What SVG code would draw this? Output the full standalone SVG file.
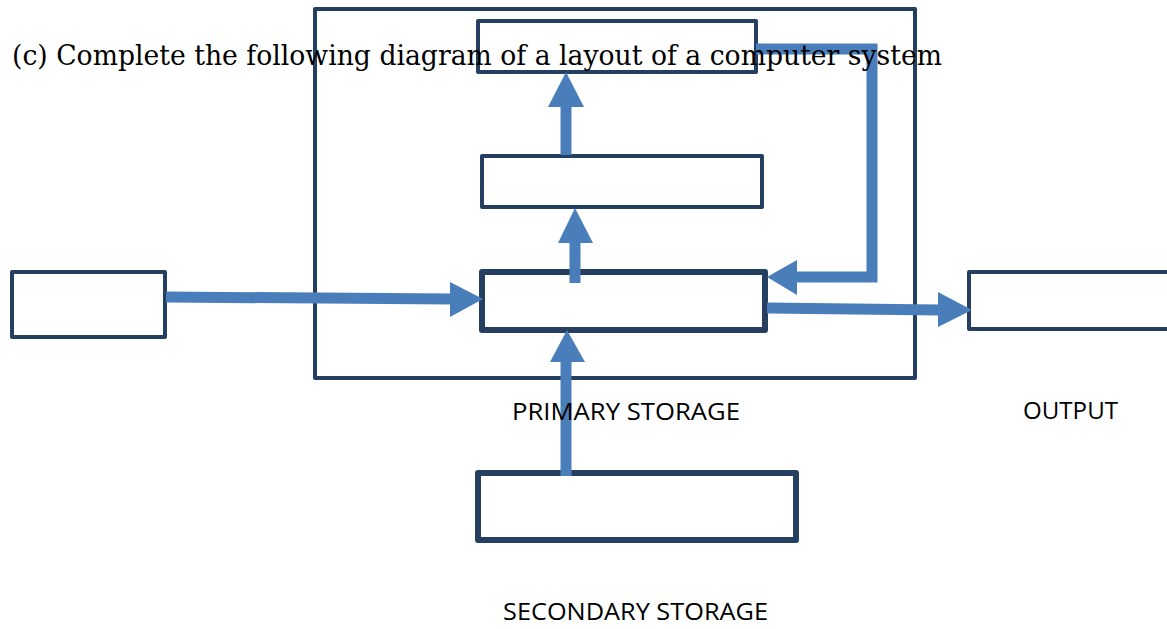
<svg xmlns="http://www.w3.org/2000/svg" width="1167" height="629" viewBox="0 0 1167 629">
<style>
.box{fill:none;stroke:#243F60;stroke-width:4;stroke-linejoin:round}
.thick{stroke-width:6}
.line{fill:none;stroke:#4A7EBB;stroke-width:11}
.head{fill:#4A7EBB}
.lbl{font-family:"Open Sans","Liberation Sans",sans-serif;font-size:24px;fill:#000}
.title{font-family:"DejaVu Serif","Liberation Serif",serif;font-size:28px;fill:#000}
</style>
<rect width="1167" height="629" fill="#fff"/>
<g id="primary-storage"><rect class="box" x="315" y="9" width="600" height="369"/></g>
<g id="top-box"><rect class="box" x="478" y="21" width="278" height="51"/></g>
<g id="middle-box"><rect class="box" x="482" y="156" width="280" height="51"/></g>
<g id="central-box"><rect class="box thick" x="482" y="272" width="283" height="58"/></g>
<g id="input-box"><rect class="box" x="12" y="272" width="153" height="65"/></g>
<g id="output-box"><rect class="box" x="969" y="272" width="210" height="57"/></g>
<g id="secondary-box"><rect class="box thick" x="478" y="473" width="318" height="67"/></g>
<g id="connectors">
<polyline class="line" points="756,49 872,49 872,277 797,277"/>
<polygon class="head" points="767,277 797,260 797,295"/>
<line class="line" x1="566" y1="155" x2="566" y2="106"/>
<polygon class="head" points="566,72 548,107 584,107"/>
<line class="line" x1="575" y1="283" x2="575" y2="240"/>
<polygon class="head" points="575,208 558,243 593,243"/>
<polyline class="line" points="166,297 452,299"/>
<polygon class="head" points="483,299 450,282 450,317"/>
<polyline class="line" points="767,308 940,310"/>
<polygon class="head" points="972,310 938,292 938,327"/>
<line class="line" x1="566" y1="476" x2="566" y2="360"/>
<polygon class="head" points="567,330 550,362 585,362"/>
</g>
<text class="title" x="12" y="65" textLength="930" lengthAdjust="spacingAndGlyphs">(c) Complete the following diagram of a layout of a computer system</text>
<text class="lbl" x="512" y="420" textLength="228" lengthAdjust="spacingAndGlyphs">PRIMARY STORAGE</text>
<text class="lbl" x="1023" y="419" textLength="95" lengthAdjust="spacingAndGlyphs">OUTPUT</text>
<text class="lbl" x="503" y="620" textLength="265" lengthAdjust="spacingAndGlyphs">SECONDARY STORAGE</text>
</svg>
